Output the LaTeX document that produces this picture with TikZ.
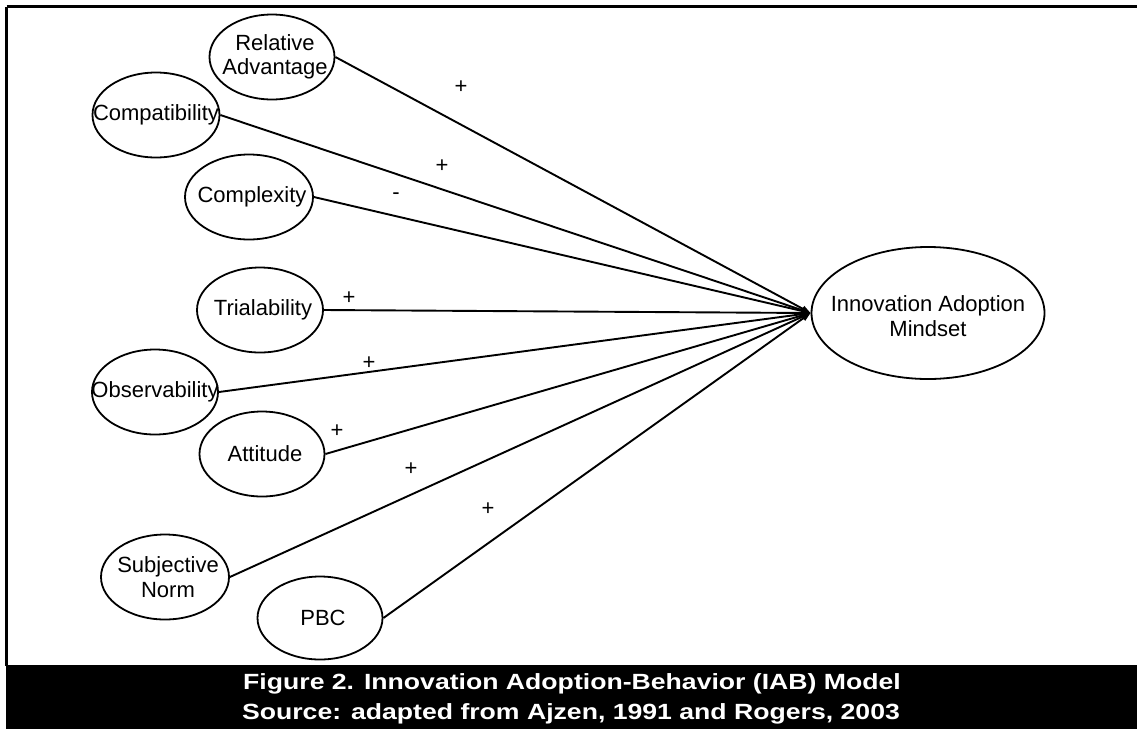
\documentclass[tikz,border=0pt]{standalone}
\usepackage{fontspec}
\setmainfont{Liberation Sans}
\usetikzlibrary{shapes.geometric,arrows.meta}
\begin{document}
\begin{tikzpicture}[x=1pt,y=-1pt,
  every node/.style={font=\fontsize{22}{24.5}\selectfont},
  oval/.style={draw, ellipse, line width=1.8pt, inner sep=0pt,
    minimum width=126pt, minimum height=85pt},
  ovtext/.style={align=center, xshift=3pt},
  link/.style={line width=1.9pt, -{Triangle[length=9pt,width=6pt]}},
  sign/.style={inner sep=0pt},
  captext/.style={text=white, font=\fontsize{22}{24}\selectfont\bfseries, anchor=base}
]
\useasboundingbox (0,0) rectangle (1137,729);
% frame
\draw[line width=2.2pt] (6.5,6.5) -- (1137,6.5);
\draw[line width=2.2pt] (6.5,6.5) -- (6.5,666);
\fill[black] (5.5,665) rectangle (1137,729);

% ellipses
\node[oval, minimum width=125pt] (ra) at (272,57) {};
\node[ovtext] at (ra.center) {Relative\\Advantage};
\node[oval, minimum width=127pt] (comp) at (156,115) {};
\node[ovtext, xshift=-3pt] at (comp.center) {Compatibility};
\node[oval, minimum width=128pt] (cplx) at (249,197) {};
\node[ovtext] at (cplx.center) {Complexity};
\node[oval] (trial) at (260,310) {};
\node[ovtext] at (trial.center) {Trialability};
\node[oval] (obs) at (155,392) {};
\node[ovtext, xshift=-3pt] at (obs.center) {Observability};
\node[oval, minimum width=125pt] (att) at (262,454) {};
\node[ovtext] at (att.center) {Attitude};
\node[oval, minimum width=128pt] (sn) at (165,577) {};
\node[ovtext] at (sn.center) {Subjective\\Norm};
\node[oval, minimum width=125pt, minimum height=83pt] (pbc) at (320,618) {};
\node[ovtext] at (pbc.center) {PBC};
\node[oval, minimum width=233pt, minimum height=132pt] (iam) at (928,313) {};
\node[align=center, yshift=-3pt] at (iam.center) {Innovation Adoption\\Mindset};

% connectors
\foreach \s in {ra,comp,cplx,trial,obs,att,sn,pbc}
  \draw[link] (\s.east) -- (iam.west);

% signs
\node[sign] (s1) at (461,87) {+};
\node[sign] (s2) at (442,166) {+};
\node[sign] (s3) at (396,196) {-};
\node[sign] (s4) at (349,298) {+};
\node[sign] (s5) at (369,363) {+};
\node[sign] (s6) at (337,431) {+};
\node[sign] (s7) at (411,469) {+};
\node[sign] (s8) at (488,509) {+};

% caption
\node[captext] (c1) at (572,689) {\scalebox{1.21}[1]{Figure 2. Innovation Adoption-Behavior (IAB) Model}};
\node[captext] (c2) at (571,719) {\scalebox{1.21}[1]{Source: adapted from Ajzen, 1991 and Rogers, 2003}};
\end{tikzpicture}
\end{document}
